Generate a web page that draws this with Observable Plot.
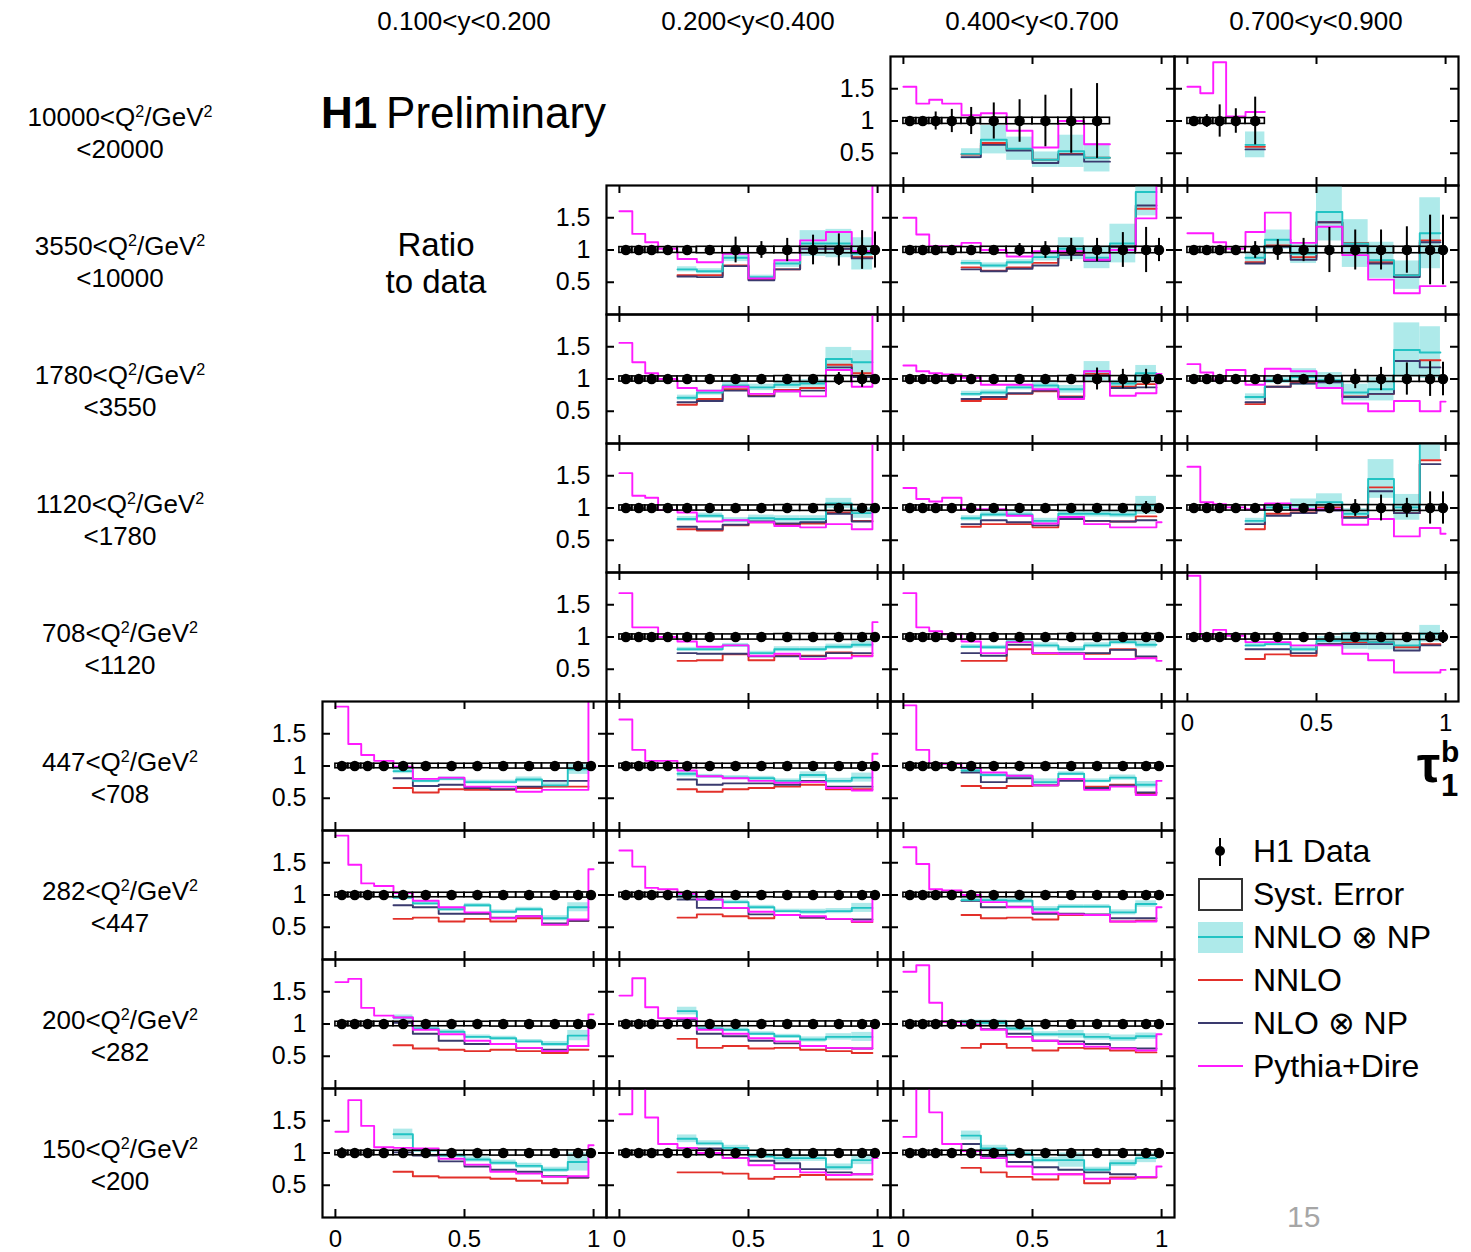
<!DOCTYPE html>
<html><head><meta charset="utf-8">
<script src="https://cdn.jsdelivr.net/npm/d3@7"></script>
<script src="https://cdn.jsdelivr.net/npm/@observablehq/plot@0.6"></script>
<style>
body{margin:0;background:#fff;}
#root{position:relative;width:1471px;height:1252px;font-family:"Liberation Sans",Arial,sans-serif;color:#000;overflow:hidden;background:#fff}
.abs{position:absolute;white-space:nowrap;line-height:1}
.abs sup{font-size:0.62em;vertical-align:0;position:relative;top:-0.55em;line-height:0}
</style></head><body><div id="root"></div>
<script>
// ---------------- DATA ----------------
const edges = [0, 0.05, 0.1, 0.15, 0.225, 0.3, 0.4, 0.5, 0.6, 0.7, 0.8, 0.9, 0.98, 1.0];
const yBinLabels = ["0.100<y<0.200", "0.200<y<0.400", "0.400<y<0.700", "0.700<y<0.900"];
const q2Low  = ["10000", "3550", "1780", "1120", "708", "447", "282", "200", "150"];
const q2High = ["20000", "10000", "3550", "1780", "1120", "708", "447", "282", "200"];
const xTicks = [0, 0.5, 1];
const yTicks = [0.5, 1, 1.5];
const panels = [[0,2],[0,3],[1,1],[1,2],[1,3],[2,1],[2,2],[2,3],[3,1],[3,2],[3,3],[4,1],[4,2],[4,3],
                [5,0],[5,1],[5,2],[6,0],[6,1],[6,2],[7,0],[7,1],[7,2],[8,0],[8,1],[8,2]];
const xLabelPanels = ["8-0","8-1","8-2","4-3"];
const yLabelPanels = ["0-2","1-1","2-1","3-1","4-1","5-0","6-0","7-0","8-0"];
const legendLabels = ["H1 Data", "Syst. Error", "NNLO ⊗ NP", "NNLO", "NLO ⊗ NP", "Pythia+Dire"];

// Pythia+Dire / data, one value per tau bin (values > 2 are off scale)
const pythia = {
  "0-2": [1.53, 1.27, 1.33, 1.27, 1.09, 1.12, 0.85, 0.59, 1.00, 0.64],
  "0-3": [1.53, 1.43, 1.91, 1.07, 1.14],
  "1-1": [1.60, 1.25, 1.12, 1.02, 0.86, 0.81, 0.94, 0.56, 0.84, 1.15, 1.28, 0.98, 3.0],
  "1-2": [1.50, 1.24, 1.06, 1.06, 1.11, 1.00, 0.90, 0.98, 0.98, 0.85, 1.00, 1.49, 3.0],
  "1-3": [1.26, 1.26, 1.12, 1.02, 1.28, 1.58, 1.11, 1.36, 0.92, 0.54, 0.33, 0.44, 0.44],
  "2-1": [1.56, 1.26, 1.09, 1.00, 0.86, 0.82, 0.88, 0.77, 0.81, 0.73, 1.14, 0.88, 3.0],
  "2-2": [1.21, 1.12, 1.09, 1.07, 1.02, 0.91, 0.91, 0.84, 0.69, 1.12, 0.74, 0.78, 1.08],
  "2-3": [1.23, 1.10, 0.98, 1.14, 0.91, 1.16, 1.12, 0.86, 0.62, 0.50, 0.66, 0.50, 0.65],
  "3-1": [1.54, 1.19, 1.16, 0.97, 0.93, 0.79, 0.81, 0.78, 0.72, 0.70, 0.75, 0.67, 3.0],
  "3-2": [1.31, 1.14, 1.10, 1.16, 0.98, 0.98, 0.88, 0.76, 0.86, 0.75, 0.70, 0.70, 0.78],
  "3-3": [1.64, 1.09, 1.06, 1.01, 0.98, 1.07, 0.98, 0.98, 0.74, 0.83, 0.56, 0.69, 0.60],
  "4-1": [1.68, 1.15, 1.15, 1.00, 0.93, 0.85, 0.87, 0.71, 0.74, 0.66, 0.67, 0.70, 1.23],
  "4-2": [1.68, 1.15, 1.09, 1.04, 0.93, 0.75, 0.92, 0.75, 0.74, 0.66, 0.66, 0.67, 0.63],
  "4-3": [1.95, 1.02, 1.11, 1.02, 0.92, 0.92, 0.87, 0.87, 0.74, 0.64, 0.45, 0.45, 0.49],
  "5-0": [1.92, 1.34, 1.17, 1.08, 0.99, 0.80, 0.82, 0.68, 0.68, 0.60, 0.63, 0.63, 3.0],
  "5-1": [1.72, 1.25, 1.08, 1.08, 0.93, 0.84, 0.81, 0.77, 0.74, 0.75, 0.66, 0.62, 1.19],
  "5-2": [1.94, 1.25, 1.04, 1.03, 0.97, 0.90, 0.85, 0.70, 0.80, 0.63, 0.68, 0.55, 0.77],
  "6-0": [1.92, 1.47, 1.18, 1.14, 1.03, 0.91, 0.81, 0.73, 0.64, 0.67, 0.54, 0.62, 1.40],
  "6-1": [1.69, 1.44, 1.11, 1.09, 1.02, 0.93, 0.80, 0.74, 0.69, 0.67, 0.63, 0.59, 1.00],
  "6-2": [1.74, 1.48, 1.09, 1.07, 1.00, 0.89, 0.81, 0.73, 0.70, 0.69, 0.59, 0.59, 0.81],
  "7-0": [1.65, 1.70, 1.25, 1.13, 1.10, 0.91, 0.84, 0.74, 0.69, 0.63, 0.58, 0.66, 1.15],
  "7-1": [1.44, 1.71, 1.26, 1.09, 1.09, 0.91, 0.85, 0.78, 0.73, 0.66, 0.63, 0.62, 0.99],
  "7-2": [1.81, 1.91, 1.33, 1.03, 0.99, 0.91, 0.80, 0.74, 0.69, 0.65, 0.62, 0.59, 0.84],
  "8-0": [1.33, 1.82, 1.42, 1.09, 1.08, 1.07, 0.91, 0.82, 0.71, 0.68, 0.63, 0.64, 1.12],
  "8-1": [1.60, 2.40, 1.55, 1.14, 1.08, 1.00, 0.92, 0.81, 0.75, 0.70, 0.66, 0.67, 0.92],
  "8-2": [1.25, 2.40, 1.63, 1.14, 1.03, 0.92, 0.79, 0.67, 0.67, 0.60, 0.60, 0.63, 0.79]
};
// NNLO x NP / data (theory bins start at tau = 0.225)
const nnloNP = {
  "0-2": [0.49, 0.71, 0.57, 0.40, 0.53, 0.43],
  "0-3": [0.63],
  "1-1": [0.70, 0.67, 0.88, 0.58, 0.79, 1.10, 1.10, 0.94],
  "1-2": [0.80, 0.76, 0.81, 0.89, 1.02, 0.88, 1.10, 1.90],
  "1-3": [0.88, 1.16, 0.94, 1.59, 1.10, 0.84, 0.61, 1.26],
  "2-1": [0.71, 0.79, 0.90, 0.87, 0.91, 0.93, 1.31, 1.26],
  "2-2": [0.77, 0.79, 0.87, 0.90, 0.84, 1.12, 0.93, 1.09],
  "2-3": [0.72, 0.98, 1.03, 0.98, 0.79, 0.84, 1.45, 1.41],
  "3-1": [0.83, 0.88, 0.81, 0.84, 0.83, 0.83, 1.07, 0.92],
  "3-2": [0.84, 0.90, 0.90, 0.80, 0.91, 0.91, 0.90, 1.04],
  "3-3": [0.80, 1.01, 1.04, 1.09, 0.91, 1.45, 1.01, 2.05],
  "4-1": [0.81, 0.81, 0.87, 0.75, 0.81, 0.81, 0.85, 0.88],
  "4-2": [0.85, 0.84, 0.93, 0.87, 0.81, 0.87, 0.92, 0.88],
  "4-3": [0.87, 0.89, 0.81, 0.94, 0.94, 0.92, 0.87, 1.05],
  "5-0": [0.92, 0.77, 0.80, 0.75, 0.75, 0.79, 0.70, 0.95],
  "5-1": [0.88, 0.84, 0.82, 0.81, 0.77, 0.86, 0.77, 0.82],
  "5-2": [0.93, 0.86, 0.84, 0.75, 0.88, 0.77, 0.82, 0.71],
  "6-0": [0.96, 0.87, 0.78, 0.84, 0.74, 0.78, 0.64, 0.81],
  "6-1": [0.98, 0.93, 0.89, 0.81, 0.75, 0.74, 0.75, 0.80],
  "6-2": [0.92, 0.92, 0.91, 0.78, 0.82, 0.82, 0.73, 0.86],
  "7-0": [1.10, 0.93, 0.88, 0.80, 0.78, 0.73, 0.69, 0.82],
  "7-1": [1.20, 0.93, 0.91, 0.85, 0.81, 0.76, 0.80, 0.80],
  "7-2": [1.03, 1.02, 0.93, 0.84, 0.84, 0.80, 0.78, 0.81],
  "8-0": [1.29, 1.04, 0.96, 0.90, 0.85, 0.80, 0.74, 0.86],
  "8-1": [1.22, 1.15, 1.08, 0.95, 0.92, 0.92, 0.78, 0.89],
  "8-2": [1.27, 1.07, 0.99, 0.89, 0.89, 0.74, 0.84, 0.92]
};
// NNLO x NP uncertainty (half width of band)
const nnloNPerr = {
  "0-2": [0.08, 0.22, 0.18, 0.12, 0.25, 0.22],
  "0-3": [0.20],
  "1-1": [0.04, 0.04, 0.06, 0.03, 0.06, 0.20, 0.22, 0.25],
  "1-2": [0.04, 0.04, 0.04, 0.06, 0.17, 0.17, 0.30, 0.37],
  "1-3": [0.08, 0.15, 0.15, 0.45, 0.37, 0.28, 0.22, 0.55],
  "2-1": [0.04, 0.04, 0.05, 0.05, 0.06, 0.06, 0.18, 0.18],
  "2-2": [0.04, 0.04, 0.04, 0.06, 0.06, 0.15, 0.05, 0.12],
  "2-3": [0.05, 0.05, 0.13, 0.12, 0.13, 0.18, 0.42, 0.40],
  "3-1": [0.04, 0.04, 0.04, 0.05, 0.05, 0.05, 0.08, 0.08],
  "3-2": [0.04, 0.04, 0.04, 0.04, 0.05, 0.05, 0.05, 0.14],
  "3-3": [0.04, 0.05, 0.10, 0.13, 0.08, 0.30, 0.20, 0.30],
  "4-1": [0.03, 0.03, 0.03, 0.03, 0.04, 0.04, 0.04, 0.05],
  "4-2": [0.03, 0.03, 0.03, 0.04, 0.04, 0.04, 0.04, 0.05],
  "4-3": [0.03, 0.03, 0.04, 0.07, 0.13, 0.12, 0.07, 0.13],
  "5-0": [0.04, 0.03, 0.03, 0.03, 0.03, 0.04, 0.04, 0.08],
  "5-1": [0.05, 0.03, 0.03, 0.03, 0.03, 0.05, 0.04, 0.07],
  "5-2": [0.03, 0.03, 0.03, 0.05, 0.03, 0.03, 0.04, 0.05],
  "6-0": [0.03, 0.03, 0.03, 0.03, 0.03, 0.03, 0.04, 0.07],
  "6-1": [0.03, 0.03, 0.03, 0.03, 0.03, 0.04, 0.04, 0.07],
  "6-2": [0.03, 0.03, 0.04, 0.04, 0.03, 0.03, 0.04, 0.05],
  "7-0": [0.04, 0.03, 0.03, 0.03, 0.03, 0.03, 0.04, 0.08],
  "7-1": [0.06, 0.03, 0.03, 0.03, 0.03, 0.04, 0.05, 0.07],
  "7-2": [0.03, 0.04, 0.04, 0.04, 0.06, 0.05, 0.05, 0.05],
  "8-0": [0.08, 0.03, 0.03, 0.04, 0.04, 0.04, 0.04, 0.14],
  "8-1": [0.06, 0.04, 0.04, 0.04, 0.06, 0.05, 0.05, 0.07],
  "8-2": [0.07, 0.05, 0.04, 0.04, 0.11, 0.04, 0.05, 0.07]
};
// NNLO / data
const nnlo = {
  "0-2": [0.48, 0.66, 0.55, 0.40, 0.49, 0.43],
  "0-3": [0.60],
  "1-1": [0.61, 0.61, 0.76, 0.55, 0.70, 1.02, 1.02, 0.89],
  "1-2": [0.73, 0.68, 0.73, 0.80, 0.93, 0.84, 1.05, 1.64],
  "1-3": [0.81, 1.07, 0.89, 1.43, 1.11, 0.81, 0.61, 1.15],
  "2-1": [0.60, 0.69, 0.84, 0.74, 0.83, 0.86, 1.22, 1.09],
  "2-2": [0.66, 0.69, 0.77, 0.81, 0.73, 1.08, 0.88, 0.92],
  "2-3": [0.61, 0.88, 0.95, 0.97, 0.73, 0.77, 1.28, 1.29],
  "3-1": [0.67, 0.65, 0.73, 0.78, 0.75, 0.76, 0.93, 0.80],
  "3-2": [0.71, 0.75, 0.75, 0.70, 0.83, 0.80, 0.79, 0.87],
  "3-3": [0.67, 0.91, 0.93, 1.01, 0.86, 1.32, 0.92, 1.74],
  "4-1": [0.63, 0.64, 0.73, 0.64, 0.71, 0.71, 0.76, 0.71],
  "4-2": [0.63, 0.63, 0.81, 0.74, 0.74, 0.74, 0.81, 0.68],
  "4-3": [0.66, 0.73, 0.71, 0.89, 0.92, 0.92, 0.84, 0.89],
  "5-0": [0.66, 0.59, 0.64, 0.63, 0.63, 0.66, 0.68, 0.68],
  "5-1": [0.64, 0.60, 0.64, 0.66, 0.68, 0.71, 0.64, 0.64],
  "5-2": [0.69, 0.66, 0.69, 0.70, 0.80, 0.68, 0.71, 0.58],
  "6-0": [0.63, 0.65, 0.59, 0.63, 0.59, 0.64, 0.54, 0.60],
  "6-1": [0.65, 0.70, 0.67, 0.64, 0.69, 0.65, 0.63, 0.58],
  "6-2": [0.69, 0.64, 0.65, 0.62, 0.69, 0.69, 0.59, 0.60],
  "7-0": [0.67, 0.62, 0.60, 0.58, 0.60, 0.58, 0.55, 0.60],
  "7-1": [0.77, 0.63, 0.66, 0.62, 0.63, 0.60, 0.58, 0.55],
  "7-2": [0.63, 0.69, 0.63, 0.59, 0.63, 0.62, 0.59, 0.56],
  "8-0": [0.71, 0.64, 0.62, 0.62, 0.60, 0.57, 0.53, 0.62],
  "8-1": [0.70, 0.70, 0.68, 0.60, 0.63, 0.66, 0.59, 0.59],
  "8-2": [0.77, 0.70, 0.63, 0.59, 0.67, 0.53, 0.62, 0.62]
};
// NLO x NP / data
const nloNP = {
  "0-2": [0.44, 0.63, 0.54, 0.35, 0.48, 0.37],
  "0-3": [0.56],
  "1-1": [0.59, 0.58, 0.75, 0.53, 0.70, 1.02, 1.02, 0.87],
  "1-2": [0.70, 0.67, 0.71, 0.76, 0.92, 0.83, 1.05, 1.69],
  "1-3": [0.79, 1.05, 0.85, 1.43, 1.07, 0.79, 0.58, 1.12],
  "2-1": [0.64, 0.66, 0.82, 0.73, 0.81, 0.82, 1.18, 1.03],
  "2-2": [0.69, 0.72, 0.78, 0.82, 0.72, 1.05, 0.86, 0.87],
  "2-3": [0.64, 0.88, 0.93, 0.95, 0.72, 0.77, 1.28, 1.18],
  "3-1": [0.71, 0.67, 0.74, 0.79, 0.76, 0.78, 0.91, 0.79],
  "3-2": [0.75, 0.81, 0.78, 0.73, 0.83, 0.80, 0.79, 0.81],
  "3-3": [0.75, 0.88, 0.92, 0.96, 0.85, 1.26, 0.92, 1.68],
  "4-1": [0.75, 0.74, 0.74, 0.70, 0.70, 0.70, 0.75, 0.75],
  "4-2": [0.75, 0.71, 0.88, 0.75, 0.75, 0.75, 0.80, 0.70],
  "4-3": [0.81, 0.81, 0.75, 0.89, 0.89, 0.89, 0.79, 0.87],
  "5-0": [0.81, 0.69, 0.71, 0.66, 0.64, 0.68, 0.77, 0.77],
  "5-1": [0.79, 0.71, 0.73, 0.73, 0.71, 0.77, 0.68, 0.68],
  "5-2": [0.90, 0.75, 0.81, 0.70, 0.77, 0.66, 0.70, 0.59],
  "6-0": [0.84, 0.81, 0.71, 0.71, 0.65, 0.67, 0.56, 0.60],
  "6-1": [0.93, 0.80, 0.80, 0.70, 0.69, 0.65, 0.63, 0.62],
  "6-2": [0.91, 0.81, 0.82, 0.71, 0.71, 0.70, 0.64, 0.64],
  "7-0": [1.02, 0.85, 0.74, 0.69, 0.69, 0.63, 0.60, 0.66],
  "7-1": [1.07, 0.85, 0.81, 0.74, 0.70, 0.66, 0.63, 0.62],
  "7-2": [0.99, 0.92, 0.85, 0.74, 0.73, 0.69, 0.63, 0.62],
  "8-0": [1.01, 0.96, 0.87, 0.79, 0.74, 0.71, 0.64, 0.62],
  "8-1": [1.08, 1.07, 0.92, 0.88, 0.84, 0.75, 0.70, 0.67],
  "8-2": [1.14, 0.95, 0.86, 0.78, 0.74, 0.70, 0.67, 0.63]
};
// relative statistical uncertainty of the data
const stat = {
  "0-2": [0.03, 0.04, 0.14, 0.18, 0.21, 0.28, 0.33, 0.40, 0.50, 0.58],
  "0-3": [0.03, 0.10, 0.25, 0.19, 0.37],
  "1-1": [0.02, 0.02, 0.03, 0.03, 0.04, 0.05, 0.20, 0.13, 0.18, 0.23, 0.25, 0.30, 0.28],
  "1-2": [0.02, 0.02, 0.02, 0.03, 0.03, 0.05, 0.10, 0.13, 0.18, 0.18, 0.27, 0.35, 0.18],
  "1-3": [0.03, 0.03, 0.03, 0.04, 0.13, 0.16, 0.18, 0.35, 0.31, 0.31, 0.36, 0.54, 0.54],
  "2-1": [0.02, 0.02, 0.02, 0.02, 0.03, 0.03, 0.03, 0.04, 0.05, 0.06, 0.10, 0.13, 0.05],
  "2-2": [0.02, 0.02, 0.02, 0.02, 0.02, 0.03, 0.03, 0.04, 0.05, 0.17, 0.15, 0.15, 0.05],
  "2-3": [0.02, 0.02, 0.02, 0.03, 0.04, 0.05, 0.06, 0.08, 0.15, 0.18, 0.25, 0.27, 0.26],
  "3-1": [0.02, 0.02, 0.02, 0.02, 0.02, 0.02, 0.03, 0.03, 0.03, 0.04, 0.05, 0.06, 0.05],
  "3-2": [0.02, 0.02, 0.02, 0.02, 0.02, 0.02, 0.03, 0.03, 0.03, 0.04, 0.05, 0.10, 0.04],
  "3-3": [0.02, 0.02, 0.02, 0.02, 0.03, 0.04, 0.05, 0.06, 0.13, 0.20, 0.15, 0.25, 0.25],
  "4-1": [0.02, 0.01, 0.01, 0.01, 0.01, 0.02, 0.02, 0.02, 0.02, 0.02, 0.03, 0.03, 0.03],
  "4-2": [0.02, 0.01, 0.01, 0.01, 0.01, 0.02, 0.02, 0.02, 0.02, 0.03, 0.03, 0.03, 0.03],
  "4-3": [0.06, 0.02, 0.02, 0.02, 0.03, 0.03, 0.03, 0.04, 0.05, 0.06, 0.07, 0.08, 0.10],
  "5-0": [0.02, 0.01, 0.01, 0.01, 0.01, 0.01, 0.01, 0.01, 0.01, 0.02, 0.02, 0.02, 0.02],
  "5-1": [0.02, 0.01, 0.01, 0.01, 0.01, 0.01, 0.01, 0.01, 0.02, 0.02, 0.02, 0.02, 0.02],
  "5-2": [0.02, 0.01, 0.01, 0.01, 0.01, 0.01, 0.01, 0.02, 0.02, 0.02, 0.02, 0.03, 0.03],
  "6-0": [0.03, 0.01, 0.01, 0.01, 0.01, 0.01, 0.01, 0.01, 0.01, 0.02, 0.02, 0.02, 0.02],
  "6-1": [0.02, 0.01, 0.01, 0.01, 0.01, 0.01, 0.01, 0.01, 0.01, 0.02, 0.02, 0.02, 0.02],
  "6-2": [0.02, 0.01, 0.01, 0.01, 0.01, 0.01, 0.01, 0.01, 0.02, 0.02, 0.02, 0.02, 0.02],
  "7-0": [0.04, 0.01, 0.01, 0.01, 0.01, 0.01, 0.01, 0.01, 0.01, 0.02, 0.02, 0.02, 0.02],
  "7-1": [0.03, 0.01, 0.01, 0.01, 0.01, 0.01, 0.01, 0.01, 0.01, 0.02, 0.02, 0.02, 0.02],
  "7-2": [0.03, 0.01, 0.01, 0.01, 0.01, 0.01, 0.01, 0.01, 0.01, 0.02, 0.02, 0.02, 0.02],
  "8-0": [0.08, 0.02, 0.02, 0.01, 0.01, 0.01, 0.01, 0.01, 0.01, 0.02, 0.02, 0.02, 0.02],
  "8-1": [0.05, 0.02, 0.01, 0.01, 0.01, 0.01, 0.01, 0.01, 0.01, 0.02, 0.02, 0.02, 0.02],
  "8-2": [0.05, 0.02, 0.01, 0.01, 0.01, 0.01, 0.01, 0.01, 0.01, 0.02, 0.02, 0.02, 0.02]
};
// relative systematic uncertainty (box half height)
const systHighQ2 = [0.045, 0.045, 0.045, 0.045, 0.045, 0.05, 0.05, 0.05, 0.05, 0.05, 0.05, 0.05, 0.05];
const systMidQ2  = [0.04, 0.04, 0.04, 0.04, 0.04, 0.04, 0.04, 0.04, 0.045, 0.045, 0.045, 0.045, 0.045];
const systLowQ2  = [0.035, 0.035, 0.035, 0.035, 0.035, 0.035, 0.035, 0.035, 0.04, 0.04, 0.04, 0.04, 0.04];
const systByRow = [systHighQ2, systHighQ2, systMidQ2, systMidQ2, systMidQ2, systLowQ2, systLowQ2, systLowQ2, systLowQ2];

// ---------------- LAYOUT ----------------
const colLeft = [322, 606, 890, 1174];
const rowTop0 = 56, PW = 284, PH = 129;
const C = {band: "#aeeaea", cyan: "#22c3c3", red: "#e2302a", navy: "#3a3a6e", magenta: "#ff1aff"};
const FONT = '"Liberation Sans", Arial, sans-serif';
const root = document.getElementById("root");

function label(html, x, baseline, size, opts = {}) {
  const d = document.createElement("div");
  d.className = "abs";
  d.innerHTML = html;
  d.style.fontSize = size + "px";
  d.style.top = (baseline - 0.846 * size) + "px";
  d.style.left = x + "px";
  if (opts.anchor === "middle") d.style.transform = "translateX(-50%)";
  if (opts.anchor === "end") d.style.transform = "translateX(-100%)";
  if (opts.weight) d.style.fontWeight = opts.weight;
  if (opts.color) d.style.color = opts.color;
  root.appendChild(d);
  return d;
}

const M = {l: 80, r: 14, t: 14, b: 50};
function steps(bins, key) {
  const pts = bins.map(b => ({x: b.x1, y: b[key]}));
  const last = bins[bins.length - 1];
  pts.push({x: last.x2, y: last[key]});
  return pts;
}

function drawPanel(r, c) {
  const k = `${r}-${c}`;
  const sys = systByRow[r];
  const dataBins = pythia[k].map((v, i) => ({
    x1: edges[i], x2: edges[i + 1], xm: (edges[i] + edges[i + 1]) / 2,
    py: v, stat: stat[k][i], syst: sys[i]
  }));
  const th = nnloNP[k].map((v, i) => ({
    x1: edges[i + 4], x2: edges[i + 5], np: v, err: nnloNPerr[k][i], nnlo: nnlo[k][i], nlo: nloNP[k][i]
  }));
  const marks = [
    Plot.rect(th, {x1: "x1", x2: "x2", y1: d => d.np - d.err, y2: d => d.np + d.err, fill: C.band, clip: true}),
    Plot.line(steps(th, "nnlo"), {x: "x", y: "y", curve: "step-after", stroke: C.red, strokeWidth: 1.9, clip: true}),
    Plot.line(steps(th, "nlo"), {x: "x", y: "y", curve: "step-after", stroke: C.navy, strokeWidth: 1.9, clip: true}),
    Plot.line(steps(th, "np"), {x: "x", y: "y", curve: "step-after", stroke: C.cyan, strokeWidth: 1.9, clip: true}),
    Plot.line(steps(dataBins, "py"), {x: "x", y: "y", curve: "step-after", stroke: C.magenta, strokeWidth: 1.9, clip: true}),
    Plot.rect(dataBins, {x1: "x1", x2: "x2", y1: d => 1 - d.syst, y2: d => 1 + d.syst, stroke: "black", strokeWidth: 1.6, fill: "none"}),
    Plot.ruleX(dataBins, {x: "xm", y1: d => 1 - d.stat, y2: d => 1 + d.stat, stroke: "black", strokeWidth: 2, clip: true}),
    Plot.dot(dataBins, {x: "xm", y: d => 1, r: 5.2, fill: "black", stroke: "none"}),
    Plot.tickX(xTicks, {x: d => d, insetBottom: PH - 8, stroke: "black", strokeWidth: 2}),
    Plot.tickX(xTicks, {x: d => d, insetTop: PH - 8, stroke: "black", strokeWidth: 2}),
    Plot.tickY(yTicks, {y: d => d, insetRight: PW - 8, stroke: "black", strokeWidth: 2}),
    Plot.tickY(yTicks, {y: d => d, insetLeft: PW - 8, stroke: "black", strokeWidth: 2}),
    Plot.frame({stroke: "black", strokeWidth: 2.2})
  ];
  if (yLabelPanels.includes(k)) {
    marks.push(Plot.axisY({ticks: yTicks, anchor: "left", tickSize: 0, tickPadding: 16, tickFormat: d => String(d), fontSize: 25, label: null}));
  }
  if (xLabelPanels.includes(k)) {
    marks.push(Plot.axisX({ticks: xTicks, anchor: "bottom", tickSize: 0, tickPadding: 12, tickFormat: d => String(d), fontSize: 24, label: null}));
  }
  const svg = Plot.plot({
    width: PW + M.l + M.r, height: PH + M.t + M.b,
    marginLeft: M.l, marginRight: M.r, marginTop: M.t, marginBottom: M.b,
    x: {domain: [-0.05, 1.05], axis: null, label: null},
    y: {domain: [0, 2], axis: null, label: null},
    style: `background: transparent; overflow: visible; font-family: ${FONT}; font-size: 25px; color: black; max-width: none;`,
    marks
  });
  svg.style.position = "absolute";
  svg.style.left = (colLeft[c] - M.l) + "px";
  svg.style.top = (rowTop0 + r * PH - M.t) + "px";
  root.appendChild(svg);
}

panels.forEach(([r, c]) => drawPanel(r, c));

// column headers
yBinLabels.forEach((t, i) => label(t.replace(/</g, "&lt;"), colLeft[i] + PW / 2, 30, 26, {anchor: "middle"}));
// row labels
q2Low.forEach((lo, r) => {
  const top = rowTop0 + r * PH;
  label(`${lo}&lt;Q<sup>2</sup>/GeV<sup>2</sup>`, 120, top + 70, 26, {anchor: "middle"});
  label(`&lt;${q2High[r]}`, 120, top + 102, 26, {anchor: "middle"});
});
// title
label(`<b>H1</b>&thinsp;Preliminary`, 321, 128, 44);
label("Ratio", 436, 256, 33, {anchor: "middle"});
label("to data", 436, 293, 33, {anchor: "middle"});
// tau_1^b
label("τ", 1417, 782, 52, {weight: "bold"});
label("b", 1441, 762, 30, {weight: "bold"});
label("1", 1441, 796, 31, {weight: "bold"});
// page number
label("15", 1287, 1227, 30, {color: "#a6a6a6"});

// legend
const legBase = [862, 905, 948, 991, 1034, 1077];
legendLabels.forEach((t, i) => label(t, 1253, legBase[i], 32));
function box(x, y, w, h, css) {
  const d = document.createElement("div");
  d.style.cssText = `position:absolute;left:${x}px;top:${y}px;width:${w}px;height:${h}px;box-sizing:border-box;${css}`;
  root.appendChild(d);
}
// H1 data symbol
box(1219, 838, 2, 28, "background:#000");
box(1215, 846, 10, 10, "background:#000;border-radius:50%");
// syst error
box(1198, 878, 45, 33, "border:2px solid #333;background:#fff");
// NNLO x NP
box(1198, 922, 45, 31, `background:${C.band}`);
box(1198, 936, 45, 2, `background:${C.cyan}`);
// NNLO, NLO x NP, Pythia
box(1198, 979, 45, 2, `background:${C.red}`);
box(1198, 1022, 45, 2, `background:${C.navy}`);
box(1198, 1065, 45, 2, `background:${C.magenta}`);
</script></body></html>
